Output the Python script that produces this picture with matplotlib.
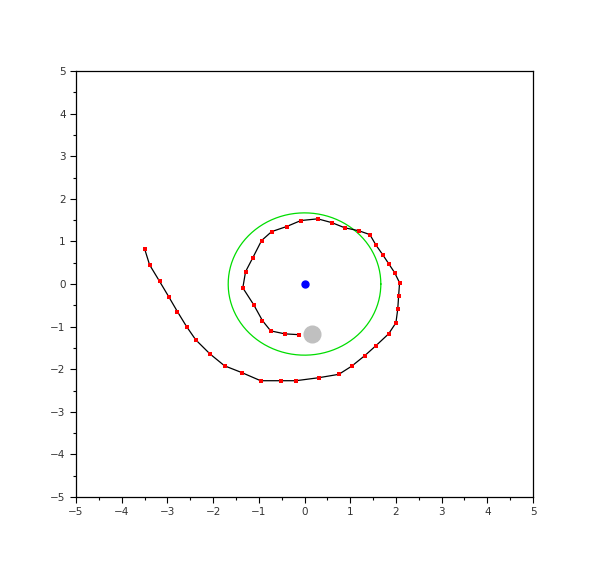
import numpy as np
import matplotlib.pyplot as plt
from matplotlib.ticker import MultipleLocator

# trajectory points
traj_x = [-3.50, -3.39, -3.17, -2.97, -2.78, -2.58, -2.38, -2.07, -1.75, -1.37,
          -0.96, -0.52, -0.19, 0.31, 0.75, 1.03, 1.32, 1.56, 1.84, 2.00,
          2.04, 2.06, 2.08, 1.97, 1.84, 1.71, 1.56, 1.43, 1.19, 0.88,
          0.60, 0.29, -0.08, -0.39, -0.72, -0.94, -1.13, -1.29, -1.35, -1.11,
          -0.92, -0.74, -0.43, -0.11]
traj_y = [0.83, 0.45, 0.06, -0.30, -0.65, -1.00, -1.31, -1.64, -1.92, -2.08,
          -2.27, -2.27, -2.27, -2.20, -2.12, -1.93, -1.68, -1.45, -1.17, -0.91,
          -0.59, -0.27, 0.03, 0.27, 0.48, 0.69, 0.92, 1.16, 1.25, 1.32,
          1.44, 1.53, 1.49, 1.35, 1.23, 1.02, 0.62, 0.29, -0.09, -0.49,
          -0.86, -1.10, -1.17, -1.19]

target = (0.0, 0.0)
robot = (0.16, -1.18)
circle_r = 1.67

fig = plt.figure(figsize=(6.1, 5.69), dpi=100)
ax = fig.add_axes([0.1246, 0.1265, 0.7492, 0.7487])

t = np.linspace(0, 2 * np.pi, 300)
ax.plot(target[0] + circle_r * np.cos(t), target[1] + circle_r * np.sin(t),
        color='#00dd00', lw=0.9)
ax.plot(traj_x, traj_y, color='black', lw=0.9)
ax.plot(traj_x, traj_y, 's', color='red', markersize=2.8, markeredgewidth=0)
ax.plot(*target, 'o', color='blue', markersize=5)
ax.plot(*robot, 'o', color='#c0c0c0', markersize=12)

ax.set_xlim(-5, 5)
ax.set_ylim(-5, 5)
ax.xaxis.set_major_locator(MultipleLocator(1))
ax.yaxis.set_major_locator(MultipleLocator(1))
ax.xaxis.set_minor_locator(MultipleLocator(0.5))
ax.yaxis.set_minor_locator(MultipleLocator(0.5))
ax.tick_params(which='major', length=4, width=0.8, labelsize=7.5,
               labelcolor='#333333', direction='out', top=False, right=False)
ax.tick_params(which='minor', length=2.5, width=0.8, direction='out',
               top=False, right=False)
for s in ax.spines.values():
    s.set_linewidth(0.9)

fig.savefig('out.png', dpi=100)
